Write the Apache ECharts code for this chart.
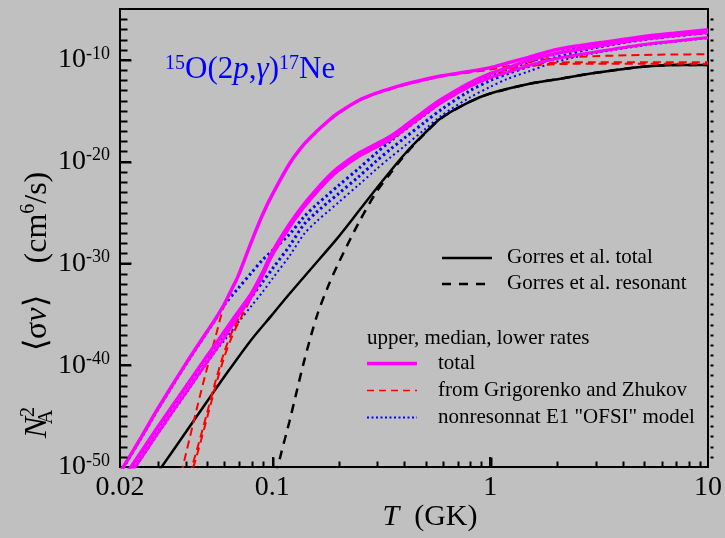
<!DOCTYPE html>
<html>
<head>
<meta charset="utf-8">
<script src="https://cdn.jsdelivr.net/npm/echarts@6/dist/echarts.min.js"></script>
<style>
  html, body { margin: 0; padding: 0; background: #c0c0c0; }
  #chart { width: 725px; height: 538px; }
</style>
</head>
<body>
<div id="chart"></div>
<script>
// 15O(2p,gamma)17Ne reaction rate, log10 of N_A^2 <sigma v> in cm^6/s versus T in GK

// Gorres et al.
const tGorresTotal = [0.03, 0.04, 0.05, 0.06, 0.08, 0.1, 0.12, 0.15, 0.2, 0.25, 0.3, 0.4, 0.5, 0.6, 0.8, 1, 1.5, 2, 3, 5, 7, 10];
const gorresTotal  = [-50.45, -46.61, -43.61, -41.18, -37.52, -35.03, -32.98, -30.57, -27.46, -24.83, -22.66, -19.39, -17.22, -15.66, -14.14, -13.30, -12.37, -11.92, -11.29, -10.67, -10.50, -10.50];

const tGorresRes = [0.1, 0.11, 0.12, 0.14, 0.16, 0.18, 0.2, 0.25, 0.3, 0.35, 0.4, 0.5, 0.6, 0.8, 1, 1.5, 2, 3, 5, 7, 10];
const gorresRes  = [-52.3, -48.6, -45.5, -39.6, -35.2, -32.3, -30.1, -25.95, -23.0, -21.1, -19.5, -17.25, -15.7, -14.16, -13.31, -12.37, -11.92, -11.29, -10.67, -10.50, -10.50];

// total rate: upper, median, lower
const tTotal = [0.02, 0.025, 0.03, 0.04, 0.05, 0.055, 0.06, 0.065, 0.07, 0.08, 0.09, 0.1, 0.12, 0.14, 0.16, 0.18, 0.2, 0.25, 0.3, 0.35, 0.4, 0.5, 0.6, 0.8, 1, 1.2, 1.5, 2, 3, 5, 7, 10];
const totalUpper  = [-50.54, -47.08, -44.18, -39.89, -36.74, -35.41, -34.06, -32.57, -31.14, -27.92, -25.26, -23.24, -20.20, -18.28, -17.02, -16.03, -15.25, -13.97, -13.27, -12.81, -12.43, -11.92, -11.56, -11.14, -10.76, -10.30, -9.75, -8.99, -8.40, -7.72, -7.37, -7.04];
const totalMedian = [-51.6, -48.52, -45.99, -42.14, -39.15, -37.89, -36.74, -35.68, -34.72, -32.98, -30.94, -28.88, -26.13, -24.16, -22.69, -21.51, -20.62, -19.15, -18.27, -17.48, -16.60, -15.03, -13.85, -12.29, -11.34, -10.78, -10.05, -9.38, -8.71, -7.96, -7.60, -7.28];
const totalLower  = [-52.2, -49.12, -46.59, -42.74, -39.75, -38.49, -37.34, -36.2, -35.1, -33.33, -31.27, -29.2, -26.45, -24.47, -23.0, -21.82, -20.93, -19.46, -18.58, -17.79, -16.91, -15.34, -14.16, -12.62, -11.75, -11.22, -10.55, -9.88, -9.25, -8.52, -8.16, -7.8];

// Grigorenko and Zhukov resonant part
const tGZUpper = [0.037, 0.04, 0.045, 0.05, 0.055, 0.06, 0.065, 0.07, 0.08, 0.09, 0.1, 0.12, 0.14, 0.16, 0.18, 0.2, 0.25, 0.3, 0.35, 0.4, 0.5, 0.6, 0.8, 1, 1.2, 1.5, 2, 3, 5, 7, 10];
const gzUpper  = [-51.89, -48.85, -44.30, -40.43, -37.14, -34.23, -32.65, -31.2, -27.98, -25.31, -23.29, -20.25, -18.33, -17.07, -16.08, -15.30, -14.02, -13.32, -12.86, -12.49, -11.99, -11.64, -11.24, -10.95, -10.62, -10.20, -9.84, -9.64, -9.52, -9.47, -9.45];
const tGZ = [0.04, 0.045, 0.05, 0.055, 0.06, 0.065, 0.07, 0.08, 0.09, 0.1, 0.12, 0.14, 0.16, 0.18, 0.2, 0.25, 0.3, 0.35, 0.4, 0.5, 0.6, 0.8, 1, 1.2, 1.5, 2, 3, 5, 7, 10];
const gzMedian = [-52.0, -48.38, -44.82, -41.50, -38.80, -36.83, -35.42, -33.05, -31.0, -28.93, -26.18, -24.21, -22.74, -21.56, -20.67, -19.2, -18.32, -17.53, -16.65, -15.08, -13.9, -12.36, -11.43, -10.95, -10.48, -10.28, -10.22, -10.22, -10.23, -10.24];
const gzLower  = [-52.5, -48.9, -45.32, -42.0, -39.3, -37.3, -35.8, -33.4, -31.32, -29.25, -26.5, -24.52, -23.05, -21.87, -20.98, -19.51, -18.63, -17.84, -16.96, -15.39, -14.21, -12.70, -11.7, -11.15, -10.65, -10.43, -10.37, -10.37, -10.38, -10.39];

// nonresonant E1 "OFSI" model
const tOFSI = [0.02, 0.025, 0.03, 0.04, 0.05, 0.055, 0.06, 0.07, 0.08, 0.09, 0.1, 0.12, 0.14, 0.16, 0.18, 0.2, 0.25, 0.3, 0.35, 0.4, 0.5, 0.6, 0.8, 1, 1.2, 1.5, 2, 3, 5, 7, 10];
const ofsiUpper  = [-50.6, -47.15, -44.25, -39.95, -36.8, -35.48, -34.13, -32.40, -30.95, -29.68, -28.74, -27.13, -25.4, -24.2, -23.25, -22.4, -20.65, -19.15, -17.95, -16.95, -15.39, -14.14, -12.53, -11.57, -10.90, -10.20, -9.40, -8.52, -7.78, -7.42, -7.09];
const ofsiMedian = [-51.7, -48.62, -46.09, -42.24, -39.25, -37.99, -37.01, -35.04, -33.34, -31.85, -30.54, -28.28, -26.15, -24.95, -24.0, -23.2, -21.45, -19.95, -18.75, -17.75, -16.14, -14.84, -13.08, -12.03, -11.36, -10.65, -9.78, -8.82, -8.02, -7.66, -7.33];
const ofsiLower  = [-52.3, -49.22, -46.69, -42.84, -39.85, -38.6, -37.62, -35.77, -34.21, -32.84, -31.52, -29.26, -27.1, -25.85, -24.9, -24.05, -22.25, -20.75, -19.55, -18.55, -16.85, -15.45, -13.74, -12.65, -11.87, -11.14, -10.20, -9.35, -8.60, -8.22, -7.86];

// axis ticks
const xMajorTicks = [0.1, 1];
const xMinorTicks = [0.03, 0.04, 0.05, 0.06, 0.07, 0.08, 0.09, 0.2, 0.3, 0.4, 0.5, 0.6, 0.7, 0.8, 0.9, 2, 3, 4, 5, 6, 7, 8, 9];
const yMajorTicks = [-40, -30, -20, -10];
const yMinorTicks = [-49, -48, -47, -46, -45, -44, -43, -42, -41,
                     -39, -38, -37, -36, -35, -34, -33, -32, -31,
                     -29, -28, -27, -26, -25, -24, -23, -22, -21,
                     -19, -18, -17, -16, -15, -14, -13, -12, -11,
                     -9, -8, -7, -6];
const xMin = 0.02, xMax = 10, yMin = -50, yMax = -5;

// plot area
const GRID = { left: 120, right: 15, top: 9, bottom: 71 };
const CHART_W = 725, CHART_H = 538;
const GRID_W = CHART_W - GRID.left - GRID.right;
const GRID_H = CHART_H - GRID.top - GRID.bottom;
const LOG_SPAN = Math.log10(xMax / xMin);

const SERIF = 'Liberation Serif';
const MAGENTA = '#ff00ff', RED = '#ff0000', BLUE = '#0000ff', BLACK = '#000000';

function curve(name, ts, vals, color, width, type) {
  return {
    type: 'line',
    name: name,
    data: ts.map((t, i) => [t, vals[i]]),
    symbol: 'none',
    showSymbol: false,
    smooth: 0.3,
    clip: true,
    silent: true,
    lineStyle: { color: color, width: width, type: type, cap: 'butt' }
  };
}

// frame positions, using the same log / linear mapping as the grid axes
const axisX = t => GRID.left + GRID_W * Math.log10(t / xMin) / LOG_SPAN;
const axisY = v => GRID.top + GRID_H * (yMax - v) / (yMax - yMin);

function segment(x1, y1, x2, y2, color, width, dash) {
  return {
    type: 'line', z: 20,
    shape: { x1: x1, y1: y1, x2: x2, y2: y2 },
    style: { stroke: color, lineWidth: width, lineDash: dash }
  };
}

function tickMarks(points, dx, dy) {
  return points.map(([x, y]) => {
    const px = Math.round(axisX(x)) + 0.5, py = Math.round(axisY(y)) + 0.5;
    return segment(px, py, px + dx, py + dy, BLACK, 2, null);
  });
}

const chart = echarts.init(document.getElementById('chart'), null, { renderer: 'canvas' });

const tickLabelRich = {
  b: { fontFamily: SERIF, fontSize: 28, color: BLACK, lineHeight: 30 },
  s: { fontFamily: SERIF, fontSize: 18, color: BLACK, lineHeight: 16, verticalAlign: 'top' }
};

const legendText = (x, y, text) => ({
  type: 'text', x: x, y: y, z: 20,
  style: { text: text, fill: BLACK, fontFamily: SERIF, fontSize: 21, verticalAlign: 'middle' }
});
const legendLine = (x, y, color, width, dash) => segment(x, y, x + 50, y, color, width, dash);

const graphicEls = [
  // reaction label
  {
    type: 'text', x: 165, y: 70, z: 20,
    style: {
      text: '{s|15}O(2{i|p},{i|γ}){s|17}Ne',
      fill: BLUE, fontFamily: SERIF, fontSize: 31,
      verticalAlign: 'middle', align: 'left',
      rich: {
        s: { fontFamily: SERIF, fontSize: 20, fill: BLUE, lineHeight: 17, verticalAlign: 'top' },
        i: { fontFamily: SERIF, fontSize: 31, fill: BLUE, fontStyle: 'italic', lineHeight: 33 }
      }
    }
  },
  // x axis title
  {
    type: 'text', x: 430, y: 517, z: 20,
    style: {
      text: '{i|T}  (GK)',
      fill: BLACK, fontFamily: SERIF, fontSize: 30,
      align: 'center', verticalAlign: 'middle',
      rich: { i: { fontFamily: SERIF, fontSize: 30, fontStyle: 'italic', fill: BLACK, lineHeight: 32 } }
    }
  },
  // y axis title
  {
    type: 'text', x: 38, y: 305, rotation: Math.PI / 2, z: 20,
    style: {
      text: '{i|N}{sub|A}{sup|2}       ⟨σ{i|v}⟩    (cm{sup|6}/s)',
      fill: BLACK, fontFamily: SERIF, fontSize: 32,
      align: 'center', verticalAlign: 'middle',
      rich: {
        i: { fontFamily: SERIF, fontSize: 32, fontStyle: 'italic', fill: BLACK, lineHeight: 38 },
        sup: { fontFamily: SERIF, fontSize: 20, fill: BLACK, lineHeight: 19, verticalAlign: 'top' },
        sub: { fontFamily: SERIF, fontSize: 20, fill: BLACK, lineHeight: 19, verticalAlign: 'bottom', width: 0 }
      }
    }
  },
  // legend: Gorres et al.
  legendLine(442, 258, BLACK, 2.5, null),
  legendText(507, 257, 'Gorres et al. total'),
  legendLine(442, 284, BLACK, 2.5, [9, 8]),
  legendText(507, 283, 'Gorres et al. resonant'),
  // legend: present rates
  legendText(367, 338, 'upper, median, lower rates'),
  legendLine(367, 363.5, MAGENTA, 3.5, null),
  legendText(438, 363, 'total'),
  legendLine(367, 390.5, RED, 1.5, [7, 5]),
  legendText(438, 390, 'from Grigorenko and Zhukov'),
  legendLine(367, 417.5, BLUE, 2, [2, 2.5]),
  legendText(438, 417, 'nonresonnat E1 "OFSI" model')
].concat(
  // bottom axis ticks, pointing inward
  tickMarks(xMajorTicks.map(t => [t, yMin]), 0, -10),
  tickMarks(xMinorTicks.map(t => [t, yMin]), 0, -6),
  // left axis ticks, pointing inward
  tickMarks(yMajorTicks.map(v => [xMin, v]), 11, 0),
  tickMarks(yMinorTicks.map(v => [xMin, v]), 7, 0),
  // right axis ticks, short and outward
  tickMarks(yMajorTicks.concat(yMinorTicks).map(v => [xMax, v]), 3, 0)
);

const option = {
  backgroundColor: '#c0c0c0',
  animation: false,
  grid: {
    left: GRID.left, right: GRID.right, top: GRID.top, bottom: GRID.bottom,
    show: true, borderColor: BLACK, borderWidth: 2, backgroundColor: 'transparent'
  },
  xAxis: {
    type: 'log', logBase: 10, min: xMin, max: xMax,
    axisLine: { show: true, lineStyle: { color: BLACK, width: 2 } },
    splitLine: { show: false },
    axisTick: { show: true, inside: true, length: 10, lineStyle: { color: BLACK, width: 2 } },
    axisLabel: {
      show: true, margin: 7, showMinLabel: true, showMaxLabel: true,
      fontFamily: SERIF, fontSize: 28, color: BLACK,
      formatter: v => String(+Number(v).toPrecision(3))
    }
  },
  yAxis: {
    type: 'value', min: yMin, max: yMax, interval: 10, position: 'left',
    axisLine: { show: true, lineStyle: { color: BLACK, width: 2 } },
    splitLine: { show: false },
    axisTick: { show: true, inside: true, length: 11, lineStyle: { color: BLACK, width: 2 } },
    axisLabel: {
      show: true, margin: 10,
      formatter: v => (v % 10 === 0 ? '{b|10}{s|' + v + '}' : ''),
      rich: tickLabelRich
    }
  },
  series: [
    curve('Gorres et al. total', tGorresTotal, gorresTotal, BLACK, 2.5, 'solid'),
    curve('Gorres et al. resonant', tGorresRes, gorresRes, BLACK, 2.5, [9, 7]),
    curve('nonresonant OFSI upper', tOFSI, ofsiUpper, BLUE, 3, [2.5, 3]),
    curve('nonresonant OFSI median', tOFSI, ofsiMedian, BLUE, 3, [2.5, 3]),
    curve('nonresonant OFSI lower', tOFSI, ofsiLower, BLUE, 2, [2, 3]),
    curve('Grigorenko and Zhukov upper', tGZUpper, gzUpper, RED, 2, [8, 5]),
    curve('Grigorenko and Zhukov median', tGZ, gzMedian, RED, 2, [8, 5]),
    curve('Grigorenko and Zhukov lower', tGZ, gzLower, RED, 2, [8, 5]),
    curve('total upper', tTotal, totalUpper, MAGENTA, 3.5, 'solid'),
    curve('total median', tTotal, totalMedian, MAGENTA, 3.5, 'solid'),
    curve('total lower', tTotal, totalLower, MAGENTA, 3, 'solid')
  ],
  graphic: graphicEls
};

chart.setOption(option);
</script>
</body>
</html>
